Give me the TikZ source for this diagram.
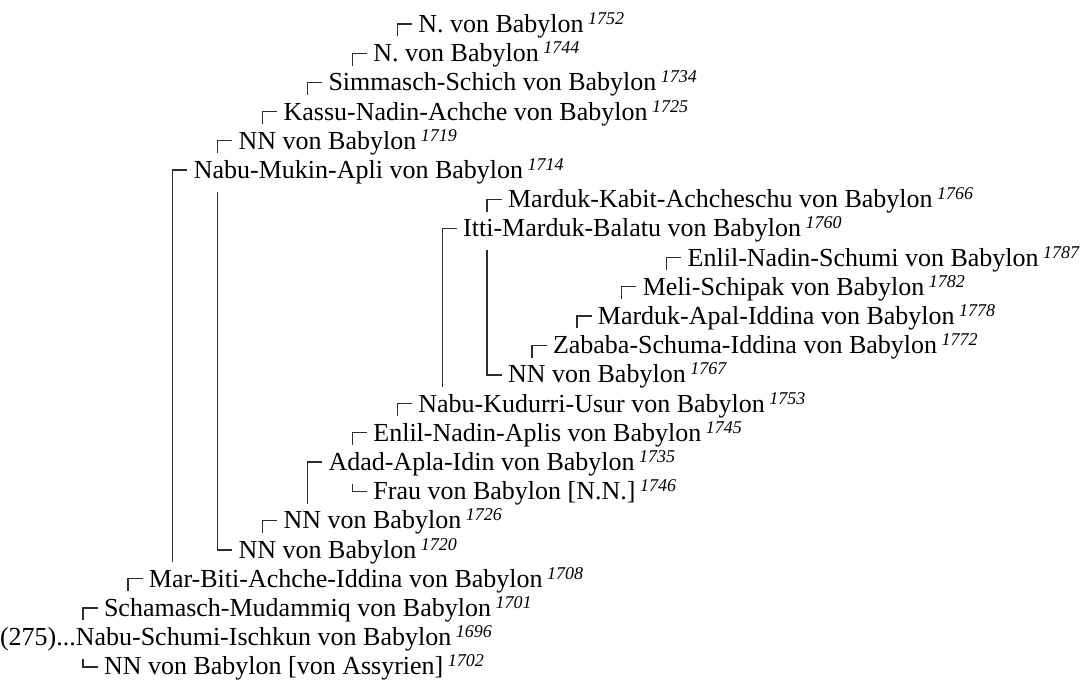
\documentclass[tikz,border=0pt]{standalone}
\usepackage{fontspec}
\setmainfont{Liberation Serif}
\usepackage{xcolor}
\usepackage{tikz}
\usetikzlibrary{calc}
\definecolor{LineGray}{RGB}{45,45,45}
\tikzset{
  % Personen und Jahreszahlen
  person/.style={inner sep=0pt,outer sep=0pt,anchor=base west,
    font=\fontsize{26pt}{29pt}\selectfont},
  yearlbl/.style={inner sep=0pt,outer sep=0pt,anchor=base west,
    font=\fontsize{18pt}{18pt}\selectfont\itshape},
  % Verbindungen
  link/.style={line width=1.3pt,draw=LineGray,line cap=rect}
}

\begin{document}
\begin{tikzpicture}[x=1pt,y=-1pt]
    \useasboundingbox (0,0) rectangle (1092,686);
    \node[person] (p1752) at (418.3,32.5) {N. von Babylon};
    \node[person] (p1744) at (373.4,61.7) {N. von Babylon};
    \node[person] (p1734) at (328.5,90.9) {Simmasch-Schich von Babylon};
    \node[person] (p1725) at (283.6,120.1) {Kassu-Nadin-Achche von Babylon};
    \node[person] (p1719) at (238.7,149.3) {NN von Babylon};
    \node[person] (p1714) at (193.8,178.5) {Nabu-Mukin-Apli von Babylon};
    \node[person] (p1766) at (508.1,207.7) {Marduk-Kabit-Achcheschu von Babylon};
    \node[person] (p1760) at (463.2,236.9) {Itti-Marduk-Balatu von Babylon};
    \node[person] (p1787) at (687.7,266.1) {Enlil-Nadin-Schumi von Babylon};
    \node[person] (p1782) at (642.8,295.3) {Meli-Schipak von Babylon};
    \node[person] (p1778) at (597.9,324.5) {Marduk-Apal-Iddina von Babylon};
    \node[person] (p1772) at (553.0,353.7) {Zababa-Schuma-Iddina von Babylon};
    \node[person] (p1767) at (508.1,382.9) {NN von Babylon};
    \node[person] (p1753) at (418.3,412.1) {Nabu-Kudurri-Usur von Babylon};
    \node[person] (p1745) at (373.4,441.3) {Enlil-Nadin-Aplis von Babylon};
    \node[person] (p1735) at (328.5,470.5) {Adad-Apla-Idin von Babylon};
    \node[person] (p1746) at (373.4,499.7) {Frau von Babylon [N.N.]};
    \node[person] (p1726) at (283.6,528.9) {NN von Babylon};
    \node[person] (p1720) at (238.7,558.1) {NN von Babylon};
    \node[person] (p1708) at (148.9,587.3) {Mar-Biti-Achche-Iddina von Babylon};
    \node[person] (p1701) at (104.0,616.5) {Schamasch-Mudammiq von Babylon};
    \node[person] (p1696) at (0,645.7) {(275)...Nabu-Schumi-Ischkun von Babylon};
    \node[person] (p1702) at (104.0,674.9) {NN von Babylon [von Assyrien]};
    % Jahreszahlen
    \foreach \p in {1752,1744,1734,1725,1719,1714,1766,1760,1787,1782,1778,1772,
        1767,1753,1745,1735,1746,1726,1720,1708,1701,1696,1702}
      \node[yearlbl] (y\p) at ([xshift=4.5pt,yshift=8pt]p\p.base east) {\p};
    % Vaeter
    \foreach \f/\c in {1752/1744,1744/1734,1734/1725,1725/1719,1719/1714,1714/1708,
        1708/1701,1701/1696,1766/1760,1760/1753,1753/1745,1745/1735,1735/1726,
        1726/1720,1787/1782,1782/1778,1778/1772,1772/1767}
      \draw[link] ([xshift=-7pt,yshift=8.5pt]p\f.base west)
        -| ($(p\f.base west |- p\c.base west)+(-21pt,26pt)$);
    % Muetter
    \foreach \m/\c in {1767/1760,1746/1735,1720/1714,1702/1696}
      \draw[link] ($(p\m.base west |- p\c.base west)+(-21pt,-14pt)$)
        |- ([xshift=-7pt,yshift=8pt]p\m.base west);
  \end{tikzpicture}
\end{document}
